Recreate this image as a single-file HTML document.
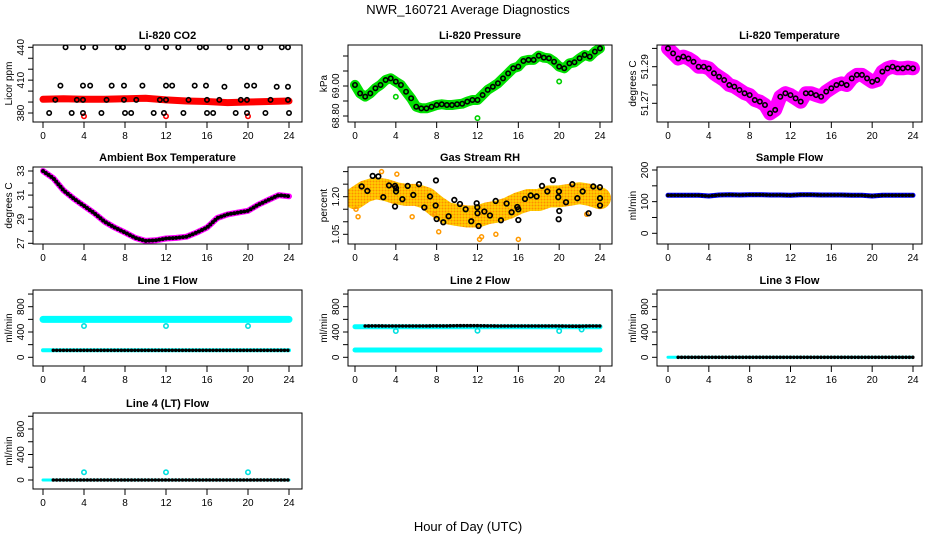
<!DOCTYPE html>
<html><head><meta charset="utf-8"><style>
html,body{margin:0;padding:0;background:#fff;}
svg{display:block;font-family:"Liberation Sans",sans-serif;}
</style></head><body>
<svg id="chart" width="936" height="540" viewBox="0 0 936 540">
<defs>
<pattern id="rhpat" width="3" height="3" patternUnits="userSpaceOnUse"><rect width="3" height="3" fill="#ffd000"/><circle cx="1.5" cy="1.5" r="1" fill="#ff8c00"/></pattern>
</defs>
<text x="468" y="14" text-anchor="middle" font-size="13">NWR_160721  Average Diagnostics</text>
<text x="468" y="531" text-anchor="middle" font-size="13">Hour of Day (UTC)</text>
</svg>
<script>
// ---------- data ----------
const xTicks = [0,4,8,12,16,20,24];
const co2Hours = [2.2,3.9,5.1,7.3,7.8,10.2,12.0,13.2,15.3,15.9,18.2,19.9,21.2,23.3,23.9,
 1.7,3.9,4.6,6.7,7.9,9.7,12.0,12.6,14.8,15.9,17.7,19.9,20.6,22.8,23.9,
 1.2,3.3,3.9,6.2,7.9,9.1,11.4,12.0,14.2,16.0,17.2,19.3,19.9,22.2,23.9,
 0.6,2.8,3.9,5.7,8.0,8.6,10.8,11.8,13.7,16.0,16.6,18.8,19.9,21.7,24.0];
const co2Vals = [440,440,440,440,440,440,440,440,440,440,440,440,440,440,440,
 405,405,405,405,405,405,405,405,405,405,404,405,405,404,404,
 392,392,392,392,392,392,392,392,392,392,392,392,392,392,392,
 380,380,380,380,380,380,380,380,380,380,380,380,380,380,380];
const co2BandHours = [0,2,4,6,8,10,12,14,16,18,20,22,24];
const co2BandVals = [392.5,393,392.5,392.5,393,393.5,392,391,390.5,389.5,390,390.5,391];
const co2LowHours = [4,12,20];
const co2LowVals = [377,377,377];

const halfHours = [0,0.5,1,1.5,2,2.5,3,3.5,4,4.5,5,5.5,6,6.5,7,7.5,8,8.5,9,9.5,10,10.5,11,11.5,12,12.5,13,13.5,14,14.5,15,15.5,16,16.5,17,17.5,18,18.5,19,19.5,20,20.5,21,21.5,22,22.5,23,23.5,24];
const pressVals = [69.007,68.951,68.929,68.951,68.985,69.007,69.040,69.051,69.029,69.007,68.962,68.918,68.862,68.851,68.851,68.862,68.873,68.878,68.873,68.873,68.878,68.882,68.896,68.907,68.907,68.940,68.974,68.995,69.018,69.051,69.084,69.118,69.129,69.167,69.174,69.174,69.202,69.189,69.185,69.162,69.129,69.118,69.151,69.158,69.185,69.207,69.196,69.229,69.251];
const pressOutHours = [4,12,20];
const pressOutVals = [68.928,68.786,69.030];
const tempVals = [51.30,51.2973,51.2945,51.2955,51.2945,51.2927,51.29,51.29,51.2891,51.2864,51.2845,51.2827,51.28,51.2791,51.2773,51.2755,51.2745,51.2718,51.2709,51.2691,51.2645,51.2664,51.2736,51.2755,51.2745,51.2727,51.2709,51.2755,51.2755,51.2745,51.2736,51.2764,51.2782,51.28,51.2809,51.28,51.2836,51.2855,51.2855,51.2836,51.2818,51.2827,51.2873,51.2891,51.29,51.2891,51.2891,51.2895,51.2891];

const hours = [0,1,2,3,4,5,6,7,8,9,10,11,12,13,14,15,16,17,18,19,20,21,22,23,24];
const ambientVals = [33.0,32.4,31.4,30.7,30.1,29.5,28.8,28.3,27.9,27.45,27.2,27.25,27.4,27.45,27.55,27.9,28.3,29.1,29.4,29.55,29.7,30.2,30.6,31.0,30.9];
const rhBandVals = [1.194,1.221,1.234,1.227,1.214,1.207,1.207,1.194,1.161,1.134,1.127,1.121,1.121,1.134,1.141,1.154,1.174,1.187,1.187,1.201,1.201,1.207,1.214,1.207,1.194];
const rhHours = [0.65,1.21,1.73,2.29,2.77,3.33,3.92,4.02,4.02,3.92,4.64,5.16,5.71,6.27,6.79,7.35,7.90,8.0,7.93,8.65,9.17,9.73,10.28,10.84,11.39,11.92,11.98,12.0,12.11,12.67,13.22,13.78,14.30,14.85,15.34,15.90,16.0,16.0,16.65,17.21,17.79,18.32,18.84,19.39,19.91,19.98,20.01,19.95,20.67,21.29,21.78,22.3,22.89,23.34,23.99,24.0,24.0];
const rhVals = [1.241,1.223,1.283,1.281,1.198,1.245,1.243,1.234,1.221,1.161,1.19,1.243,1.207,1.25,1.157,1.201,1.165,1.111,1.265,1.098,1.122,1.187,1.171,1.15,1.102,1.174,1.158,1.134,1.083,1.141,1.125,1.183,1.106,1.173,1.138,1.159,1.15,1.107,1.191,1.205,1.201,1.243,1.221,1.266,1.198,1.221,1.143,1.11,1.178,1.25,1.194,1.221,1.134,1.241,1.238,1.194,1.165];
const rhOutHours = [0.1,0.3,2.6,4.1,5.6,7.8,8.2,12.2,12.4,13.8,16.0,22.7];
const rhOutVals = [1.15,1.12,1.30,1.29,1.12,1.13,1.06,1.03,1.04,1.05,1.03,1.13];

const sampleVals = [120,120,120,120,118,121,122,121,122,122,121,121,120,122,122,121,121,121,120,120,118,120,120,120,120];
const l1CyanVals = [600,600,600,600,600,600,600,600,600,600,600,600,600,600,600,600,600,600,600,600,600,600,600,600,600];
const l1BlackVals = [110,110,110,110,110,110,110,110,110,110,110,110,110,110,110,110,110,110,110,110,110,110,110,110,110];
const l1DipHours = [4,12,20];
const l1DipVals = [495,495,495];
const l2CyanHiVals = [484,484,484,484,484,484,484,484,484,484,484,484,484,484,484,484,484,484,484,484,484,484,484,484,484];
const l2CyanLoVals = [116,116,116,116,116,116,116,116,116,116,116,116,116,116,116,116,116,116,116,116,116,116,116,116,116];
const l2BlackVals = [495,495,497,495,495,495,495,495,497,497,500,500,500,497,495,495,495,495,495,495,495,492,492,495,495];
const l2DipHours = [4,12,20,22.2];
const l2DipVals = [415,420,415,440];
const l3Vals = [0,0,0,0,0,0,0,0,0,0,0,0,0,0,0,0,0,0,0,0,0,0,0,0,0];
const l4Vals = [0,0,0,0,0,0,0,0,0,0,0,0,0,0,0,0,0,0,0,0,0,0,0,0,0];
const l4DipHours = [4,12,20];
const l4DipVals = [121,121,121];

// ---------- layout ----------
const NS = "http://www.w3.org/2000/svg";
const svg = document.getElementById('chart');
const cols = [{l:33,r:302,x0:43,x24:289},{l:348,r:612,x0:355,x24:600},{l:657,r:922,x0:668,x24:913}];
const rows = [{t:45,b:122},{t:167,b:244},{t:290,b:366},{t:413,b:489}];

function mk(tag, attrs, parent){
  const e = document.createElementNS(NS, tag);
  for (const k in attrs) e.setAttribute(k, attrs[k]);
  (parent||svg).appendChild(e);
  return e;
}

function makePanel(ci, ri, title, ylab, name, v0, p0, v1, p1, ticks, labels){
  const c = cols[ci], r = rows[ri];
  const g = mk('g', {});
  
  
  const xs = h => c.x0 + (c.x24 - c.x0) * h / 24;
  const ys = v => p0 + (p1 - p0) * (v - v0) / (v1 - v0);
  const t = mk('text', {x:(c.l+c.r)/2, y:r.t-6, 'text-anchor':'middle', 'font-size':11, 'font-weight':'bold'}, g);
  t.textContent = title;
  
  
  const xa = mk('g', {}, g);
  
  
  xTicks.forEach(h => {
    mk('line', {x1:xs(h), x2:xs(h), y1:r.b, y2:r.b+6, stroke:'#000', 'stroke-width':1}, xa);
    const tl = mk('text', {x:xs(h), y:r.b+17, 'text-anchor':'middle', 'font-size':10}, xa);
    tl.textContent = h;
  });
  const ya = mk('g', {}, g);
  
  
  ticks.forEach(v => {
    const y = ys(v);
    if (y < r.t - 1 || y > r.b + 1) return;
    mk('line', {x1:c.l-5, x2:c.l, y1:y, y2:y, stroke:'#000', 'stroke-width':1}, ya);
  });
  labels.forEach(v => {
    const y = ys(+v), x = c.l - 9;
    const tl = mk('text', {x:x, y:y, 'text-anchor':'middle', 'font-size':10, transform:`rotate(-90 ${x} ${y})`}, ya);
    tl.textContent = v;
  });
  const yt = mk('text', {x:c.l-21, y:(r.t+r.b)/2, 'text-anchor':'middle', 'font-size':10, transform:`rotate(-90 ${c.l-21} ${(r.t+r.b)/2})`}, g);
  yt.textContent = ylab;
  
  
  const clip = 'clip-' + name;
  const cp = mk('clipPath', {id:clip}, g);
  mk('rect', {x:c.l, y:r.t, width:c.r-c.l, height:r.b-r.t}, cp);
  const plot = mk('g', {'clip-path':`url(#${clip})`}, g);
  
  
  const box = mk('rect', {x:c.l, y:r.t, width:c.r-c.l, height:r.b-r.t, fill:'none', stroke:'#000', 'stroke-width':1}, g);
  
  
  return {plot, xs, ys, g, box};
}

function band(P, hs, vs, color, w, nm){
  const pts = hs.map((h,i) => P.xs(h).toFixed(1) + ',' + P.ys(vs[i]).toFixed(1)).join(' ');
  const pl = mk('polyline', {points:pts, fill:'none', stroke:color, 'stroke-width':w, 'stroke-linejoin':'round', 'stroke-linecap':'round'}, P.plot);
  
  
  return pl;
}
function dots(P, hs, vs, color, w, nm){
  const pts = hs.map((h,i) => P.xs(h).toFixed(1) + ',' + P.ys(vs[i]).toFixed(1)).join(' ');
  const pl = mk('polyline', {points:pts, fill:'none', stroke:color, 'stroke-width':w, 'stroke-dasharray':'0 3.4', 'stroke-linecap':'round'}, P.plot);
  
  
}
function circles(P, hs, vs, color, nm, r, sw){
  hs.forEach((h,i) => {
    const c = mk('circle', {cx:P.xs(h), cy:P.ys(vs[i]), r:r||2.2, fill:'none', stroke:color, 'stroke-width':sw||1.6}, P.plot);
    
    
  });
}

// Panel 1: CO2
let P = makePanel(0,0,'Li-820 CO2','Licor ppm','co2',380,113,440,47.3,[380,390,400,410,420,430,440],['380','410','440']);
band(P, co2BandHours, co2BandVals, '#ff0000', 7, 'co2-red-band');
circles(P, co2LowHours, co2LowVals, '#ff0000', 'co2-red-point');
circles(P, co2Hours, co2Vals, '#000', 'co2-black-point');

// Panel 2: Pressure
P = makePanel(1,0,'Li-820 Pressure','kPa','pressure',68.80,116,69.00,86,[68.8,68.9,69.0,69.1,69.2,69.3,69.4],['68.80','69.00']);
band(P, halfHours, pressVals, '#00e000', 10, 'pressure-green-band');
circles(P, pressOutHours, pressOutVals, '#00d000', 'pressure-green-outlier');
circles(P, halfHours, pressVals, '#000', 'pressure-black-point', 2.2, 1.6);

// Panel 3: Temperature
P = makePanel(2,0,'Li-820 Temperature','degrees C','licor-temp',51.27,103.3,51.29,66.7,[51.27,51.28,51.29,51.30],['51.27','51.29']);
band(P, halfHours, tempVals, '#ff00ff', 14, 'temp-magenta-band');
circles(P, halfHours, tempVals, '#000', 'temp-black-point', 2.2, 1.6);

// Panel 4: Ambient
P = makePanel(0,1,'Ambient Box Temperature','degrees C','ambient',27,243.3,33,171,[27,28,29,30,31,32,33],['27','29','31','33']);
band(P, hours, ambientVals, '#ff00ff', 6, 'ambient-magenta-band');
dots(P, hours, ambientVals, '#000', 4, 'ambient-black-points');

// Panel 5: RH
P = makePanel(1,1,'Gas Stream RH','percent','rh',1.05,234.3,1.20,196.7,[1.05,1.10,1.15,1.20,1.25,1.30],['1.05','1.20']);
band(P, hours, rhBandVals, 'url(#rhpat)', 22, 'rh-orange-band');
circles(P, rhOutHours, rhOutVals, '#ff9900', 'rh-orange-outlier', 2, 1.5);
circles(P, rhHours, rhVals, '#000', 'rh-black-point', 2.3, 1.7);

// Panel 6: Sample flow
P = makePanel(2,1,'Sample Flow','ml/min','sample-flow',0,233.3,200,170,[0,50,100,150,200],['0','100','200']);
band(P, hours, sampleVals, '#0000ff', 5, 'sample-blue-band');
dots(P, hours, sampleVals, '#000', 3.6, 'sample-black-points');

// Panel 7: Line 1
P = makePanel(0,2,'Line 1 Flow','ml/min','line1',0,357.3,800,306.7,[0,200,400,600,800,1000],['0','400','800']);
band(P, hours, l1CyanVals, '#00ffff', 7, 'line1-cyan-band');
band(P, hours, l1BlackVals, '#00ffff', 4, 'line1-cyan-low');
circles(P, l1DipHours, l1DipVals, '#00e0e0', 'line1-cyan-dip');
dots(P, hours.slice(1), l1BlackVals.slice(1), '#000', 3.6, 'line1-black-points');

// Panel 8: Line 2
P = makePanel(1,2,'Line 2 Flow','ml/min','line2',0,357.3,800,306.7,[0,200,400,600,800,1000],['0','400','800']);
band(P, hours, l2CyanHiVals, '#00ffff', 5, 'line2-cyan-band');
band(P, hours, l2CyanLoVals, '#00ffff', 5, 'line2-cyan-low');
circles(P, l2DipHours, l2DipVals, '#00e0e0', 'line2-cyan-dip');
dots(P, hours.slice(1), l2BlackVals.slice(1), '#000', 3.6, 'line2-black-points');

// Panel 9: Line 3
P = makePanel(2,2,'Line 3 Flow','ml/min','line3',0,357.3,800,306.7,[0,200,400,600,800,1000],['0','400','800']);
band(P, hours, l3Vals, '#00ffff', 3, 'line3-cyan-band');
dots(P, hours.slice(1), l3Vals.slice(1), '#000', 3.6, 'line3-black-points');

// Panel 10: Line 4
P = makePanel(0,3,'Line 4 (LT) Flow','ml/min','line4',0,480,800,429,[0,200,400,600,800,1000],['0','400','800']);
band(P, hours, l4Vals, '#00ffff', 3, 'line4-cyan-band');
circles(P, l4DipHours, l4DipVals, '#00e0e0', 'line4-cyan-dip');
dots(P, hours.slice(1), l4Vals.slice(1), '#000', 3.6, 'line4-black-points');
</script>
</body></html>
